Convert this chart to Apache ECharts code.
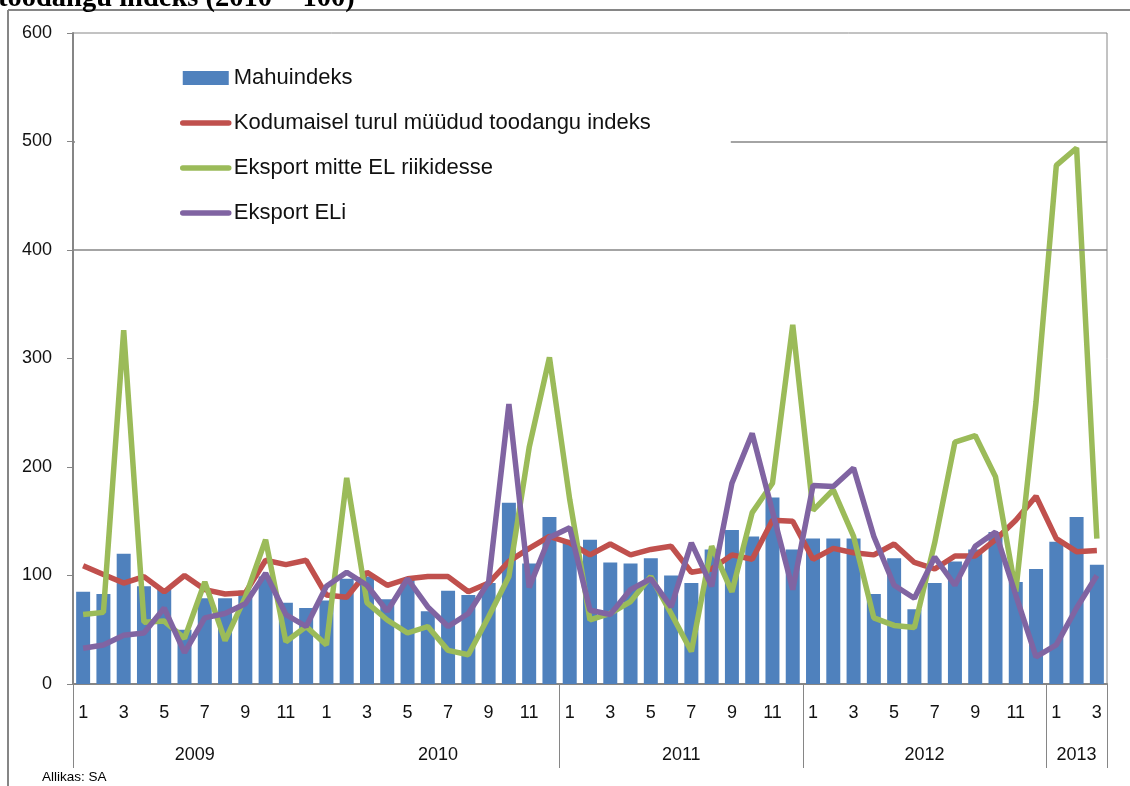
<!DOCTYPE html>
<html>
<head>
<meta charset="utf-8">
<script src="https://cdn.jsdelivr.net/npm/echarts@6/dist/echarts.min.js"></script>
<style>
html, body { margin: 0; padding: 0; background: #fff; }
#main { width: 1130px; height: 786px; }
</style>
</head>
<body>
<div id="main"></div>
<script>
// kuud 2009-01 ... 2013-03
const years = ['2009', '2010', '2011', '2012', '2013'];
const months = [
    '1','2','3','4','5','6','7','8','9','10','11','12',
    '1','2','3','4','5','6','7','8','9','10','11','12',
    '1','2','3','4','5','6','7','8','9','10','11','12',
    '1','2','3','4','5','6','7','8','9','10','11','12',
    '1','2','3'
];

const mahuindeks = [
    85, 83, 120, 90, 87, 50, 79, 79, 86, 99, 75, 70,
    77, 97, 99, 78, 97, 67, 86, 82, 93, 167, 111, 154,
    133, 133, 112, 111, 116, 100, 93, 124, 142, 136, 172, 124,
    134, 134, 134, 83, 116, 69, 93, 113, 124, 140, 94, 106,
    131, 154, 110
];
const kodumaine = [
    109, 101, 93, 99, 85, 100, 87, 83, 84, 114, 110, 114,
    82, 80, 103, 91, 97, 99, 99, 85, 93, 113, 125, 136,
    130, 119, 129, 119, 124, 127, 103, 106, 119, 115, 151, 150,
    115, 125, 121, 119, 129, 112, 106, 118, 118, 133, 151, 173,
    134, 122, 123
];
const eksportMitteEL = [
    64, 66, 326, 57, 58, 42, 94, 40, 80, 133, 39, 53,
    36, 190, 75, 59, 47, 53, 31, 27, 62, 99, 218, 301,
    170, 59, 65, 76, 99, 65, 30, 127, 85, 158, 185, 331,
    160, 179, 136, 61, 54, 52, 130, 223, 229, 191, 85, 260,
    478, 494, 134
];
const eksportEL = [
    33, 36, 45, 47, 70, 29, 61, 65, 74, 102, 64, 53,
    90, 103, 91, 67, 97, 71, 53, 65, 94, 258, 89, 135,
    144, 68, 64, 87, 97, 71, 130, 90, 185, 231, 159, 87,
    183, 182, 199, 136, 91, 79, 117, 91, 127, 140, 82, 25,
    36, 70, 100
];

// aasta algused ja keskkohad kategooriate skaalal
let yearStart = [];
months.forEach(function (m, i) { if (m === '1') yearStart.push(i); });
let yearEnd = yearStart.slice(1).concat(months.length);
let yearMid = yearStart.map(function (s, k) { return (s + yearEnd[k]) / 2; });
// originaalis puudub 2009/2010 vaheline joon
let dividers = yearStart.filter(function (s, k) { return k !== 1; }).concat(months.length);

let grey = '#868686';
let font = 'Liberation Sans';
let labelColor = '#111';
let hideDot = { opacity: 0 };

let chart = echarts.init(document.getElementById('main'));

let option = {
    animation: false,
    grid: {
        left: 73, right: 23, top: 33, bottom: 102,
        show: true, borderColor: grey, borderWidth: 1
    },
    legend: {
        orient: 'vertical',
        left: 75, top: 46, z: 10,
        padding: [20, 80, 20, 105],
        backgroundColor: '#fff',
        itemWidth: 46, itemHeight: 14, itemGap: 21,
        lineStyle: { width: 5.5, cap: 'round' },
        textStyle: { fontFamily: font, fontSize: 22, color: labelColor, lineHeight: 24 },
        data: [
            { name: 'Mahuindeks', icon: 'rect' },
            { name: 'Kodumaisel turul müüdud toodangu indeks', itemStyle: hideDot },
            { name: 'Eksport mitte EL riikidesse', itemStyle: hideDot },
            { name: 'Eksport ELi', itemStyle: hideDot }
        ]
    },
    xAxis: [
        {
            type: 'category',
            data: months,
            axisLine: { lineStyle: { color: grey, width: 2 } },
            axisTick: { interval: 0, length: 43, lineStyle: { color: grey } },
            axisLabel: { interval: 1, margin: 20, fontSize: 18, fontFamily: font, color: labelColor }
        },
        {
            type: 'value',
            min: 0, max: months.length,
            position: 'bottom',
            axisLine: { show: false },
            splitLine: { show: false },
            axisTick: { show: true, customValues: dividers, length: 84, lineStyle: { color: grey } },
            axisLabel: {
                customValues: yearMid,
                margin: 62, fontSize: 18, fontFamily: font, color: labelColor,
                formatter: function (v) { return years[yearMid.indexOf(v)]; }
            }
        }
    ],
    yAxis: {
        type: 'value',
        min: 0, max: 600, interval: 100,
        axisLine: { show: true, lineStyle: { color: grey, width: 2 } },
        axisTick: { show: true, length: 6, lineStyle: { color: grey } },
        splitLine: { show: false },
        axisLabel: { margin: 21, fontSize: 18, fontFamily: font, color: labelColor }
    },
    series: [
        {
            name: 'Mahuindeks',
            type: 'bar',
            data: mahuindeks,
            barCategoryGap: '31%',
            itemStyle: { color: '#4F81BD' },
            markLine: {
                silent: true,
                symbol: ['none', 'none'],
                label: { show: false },
                lineStyle: { color: grey, type: 'solid', width: 1.5 },
                data: [{ yAxis: 400 }, { yAxis: 500 }]
            }
        },
        {
            name: 'Kodumaisel turul müüdud toodangu indeks',
            type: 'line',
            data: kodumaine,
            symbol: 'none',
            lineStyle: { color: '#C0504D', width: 5.5 },
            itemStyle: { color: '#C0504D' }
        },
        {
            name: 'Eksport mitte EL riikidesse',
            type: 'line',
            data: eksportMitteEL,
            symbol: 'none',
            lineStyle: { color: '#9BBB59', width: 5.5 },
            itemStyle: { color: '#9BBB59' }
        },
        {
            name: 'Eksport ELi',
            type: 'line',
            data: eksportEL,
            symbol: 'none',
            lineStyle: { color: '#8064A2', width: 5.5 },
            itemStyle: { color: '#8064A2' }
        }
    ],
    graphic: [
        { type: 'line', shape: { x1: 8, y1: 10, x2: 1130, y2: 10 }, style: { stroke: grey, lineWidth: 2 } },
        { type: 'line', shape: { x1: 8, y1: 10, x2: 8, y2: 786 }, style: { stroke: grey, lineWidth: 2 } },
        {
            type: 'text', x: -2, y: -16,
            style: { text: 'toodangu indeks (2010 = 100)', font: 'bold 28.5px "Liberation Serif"', fill: '#000' }
        },
        {
            type: 'text', x: 42, y: 770,
            style: { text: 'Allikas: SA', font: '13.5px "Liberation Sans"', fill: '#000' }
        }
    ]
};

chart.setOption(option);
</script>
</body>
</html>
